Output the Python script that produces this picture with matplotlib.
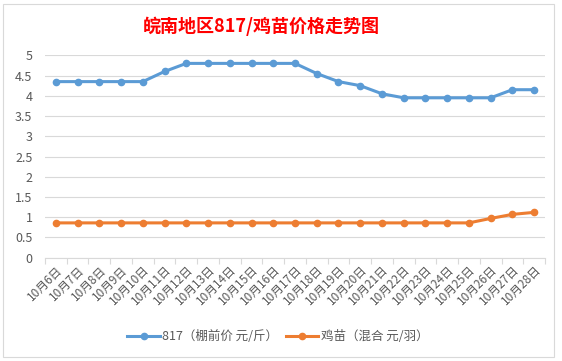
import matplotlib.pyplot as plt
from matplotlib.patches import Rectangle

plt.rcParams['font.family'] = ['Noto Sans CJK SC', 'DejaVu Sans']

# 日期
fechas = ["10月%d日" % d for d in range(6, 29)]

# 817 棚前价 (元/斤)
precio_817 = [4.35, 4.35, 4.35, 4.35, 4.35, 4.6, 4.8, 4.8, 4.8, 4.8, 4.8, 4.8,
              4.55, 4.35, 4.25, 4.05, 3.95, 3.95, 3.95, 3.95, 3.95, 4.15, 4.15]

# 鸡苗 混合 (元/羽)
precio_pollito = [0.86, 0.86, 0.86, 0.86, 0.86, 0.86, 0.86, 0.86, 0.86, 0.86,
                  0.86, 0.86, 0.86, 0.86, 0.86, 0.86, 0.86, 0.86, 0.86, 0.86,
                  0.97, 1.07, 1.12]

azul = "#5B9BD5"
naranja = "#ED7D31"
gris_texto = "#595959"

fig = plt.figure(figsize=(5.62, 3.61), dpi=100)
fig.patch.set_facecolor("white")

# marco del gráfico
W, H = 562, 361
fig.patches.append(Rectangle((3 / W, 1 - 357 / H), 551 / W, 353 / H,
                             transform=fig.transFigure, fill=False,
                             edgecolor="#D9D9D9", linewidth=0.8))

ax = fig.add_axes([45 / W, 1 - 257.7 / H, 500 / W, (257.7 - 55.3) / H])

x = list(range(len(fechas)))
l1, = ax.plot(x, precio_817, color=azul, linewidth=2.2, marker="o",
              markersize=4.5, label="817（棚前价 元/斤）")
l2, = ax.plot(x, precio_pollito, color=naranja, linewidth=2.2, marker="o",
              markersize=4.5, label="鸡苗（混合 元/羽）")

ax.set_xlim(-0.5, len(fechas) - 0.5)
ax.set_ylim(0, 5)
ax.set_yticks([i * 0.5 for i in range(11)])
ax.set_yticklabels(["0", "0.5", "1", "1.5", "2", "2.5", "3", "3.5", "4", "4.5", "5"])
ax.yaxis.grid(True, color="#D9D9D9", linewidth=0.8)
ax.set_axisbelow(True)

ax.set_xticks(x)
ax.set_xticklabels(fechas, rotation=45, ha="right", rotation_mode="anchor")
ax.set_xticks([i - 0.5 for i in range(len(fechas) + 1)], minor=True)
ax.tick_params(axis="x", which="major", length=0, labelsize=8.5,
               colors=gris_texto, pad=4)
ax.tick_params(axis="x", which="minor", length=4, color="#D9D9D9", width=0.8)
ax.tick_params(axis="y", length=0, labelsize=9, colors=gris_texto, pad=9)

for lado in ["top", "right", "left"]:
    ax.spines[lado].set_visible(False)
ax.spines["bottom"].set_color("#D9D9D9")
ax.spines["bottom"].set_linewidth(0.8)

fig.text(261 / W, 1 - 26 / H, "皖南地区817/鸡苗价格走势图", color="red",
         fontsize=13, fontweight="bold", ha="center", va="center")

fig.legend(handles=[l1, l2], loc="center", bbox_to_anchor=(278 / W, 1 - 337 / H),
           ncol=2, frameon=False, fontsize=9, labelcolor=gris_texto,
           handlelength=2.6, columnspacing=0.6, handletextpad=0.2)

fig.savefig("out.png", dpi=100)
